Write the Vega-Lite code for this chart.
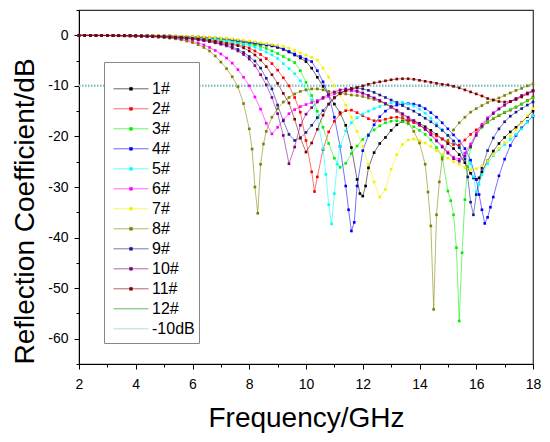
{
  "$schema": "https://vega.github.io/schema/vega-lite/v6.json",
  "width": 454,
  "height": 354,
  "autosize": {"type": "none"},
  "padding": {"left": 79, "top": 10, "right": 17, "bottom": 78},
  "config": {
    "font": "Liberation Sans",
    "view": {"stroke": "#333", "strokeWidth": 1.2},
    "axis": {
      "grid": false,
      "domainColor": "black",
      "tickColor": "black",
      "labelColor": "black",
      "titleColor": "black",
      "labelFont": "Liberation Sans",
      "titleFont": "Liberation Sans",
      "labelFontSize": 14,
      "titleFontSize": 28,
      "titleFontWeight": "normal",
      "labelOverlap": false,
      "labelFlush": false
    }
  },
  "data": {
    "values": [
      {"s":"-10dB","f":2,"r":-10},{"s":"-10dB","f":18,"r":-10},

      {"s":"1#","f":2.0,"r":-0.01},{"s":"1#","f":2.2,"r":-0.01},{"s":"1#","f":2.4,"r":-0.02},{"s":"1#","f":2.6,"r":-0.02},{"s":"1#","f":2.8,"r":-0.02},{"s":"1#","f":3.0,"r":-0.03},{"s":"1#","f":3.2,"r":-0.03},{"s":"1#","f":3.4,"r":-0.04},{"s":"1#","f":3.6,"r":-0.04},{"s":"1#","f":3.8,"r":-0.05},
      {"s":"1#","f":4.0,"r":-0.06},{"s":"1#","f":4.2,"r":-0.07},{"s":"1#","f":4.4,"r":-0.08},{"s":"1#","f":4.6,"r":-0.1},{"s":"1#","f":4.8,"r":-0.12},{"s":"1#","f":5.0,"r":-0.14},{"s":"1#","f":5.2,"r":-0.17},{"s":"1#","f":5.4,"r":-0.2},{"s":"1#","f":5.6,"r":-0.24},{"s":"1#","f":5.8,"r":-0.28},
      {"s":"1#","f":6.0,"r":-0.33},{"s":"1#","f":6.2,"r":-0.39},{"s":"1#","f":6.4,"r":-0.46},{"s":"1#","f":6.6,"r":-0.54},{"s":"1#","f":6.8,"r":-0.63},{"s":"1#","f":7.0,"r":-0.74},{"s":"1#","f":7.2,"r":-0.86},{"s":"1#","f":7.4,"r":-1.0},{"s":"1#","f":7.6,"r":-1.16},{"s":"1#","f":7.8,"r":-1.34},
      {"s":"1#","f":8.0,"r":-1.52},{"s":"1#","f":8.2,"r":-1.68},{"s":"1#","f":8.4,"r":-1.82},{"s":"1#","f":8.6,"r":-1.95},{"s":"1#","f":8.8,"r":-2.1},{"s":"1#","f":9.0,"r":-2.4},{"s":"1#","f":9.2,"r":-2.8},{"s":"1#","f":9.4,"r":-3.3},{"s":"1#","f":9.6,"r":-3.9},{"s":"1#","f":9.8,"r":-4.5},
      {"s":"1#","f":10.0,"r":-5.2},{"s":"1#","f":10.2,"r":-6.5},{"s":"1#","f":10.4,"r":-8.3},{"s":"1#","f":10.6,"r":-10.1},{"s":"1#","f":10.8,"r":-11.9},{"s":"1#","f":11.0,"r":-13.6},{"s":"1#","f":11.2,"r":-15.3},{"s":"1#","f":11.4,"r":-17.8},{"s":"1#","f":11.6,"r":-22.2},{"s":"1#","f":11.8,"r":-28.5},
      {"s":"1#","f":11.9,"r":-31.3},{"s":"1#","f":12.0,"r":-31.8},{"s":"1#","f":12.1,"r":-29.8},{"s":"1#","f":12.2,"r":-26.2},{"s":"1#","f":12.4,"r":-23.2},{"s":"1#","f":12.6,"r":-21.4},{"s":"1#","f":12.8,"r":-20.2},{"s":"1#","f":13.0,"r":-18.8},{"s":"1#","f":13.2,"r":-17.7},{"s":"1#","f":13.4,"r":-17.0},
      {"s":"1#","f":13.6,"r":-16.8},{"s":"1#","f":13.8,"r":-16.9},{"s":"1#","f":14.0,"r":-17.4},{"s":"1#","f":14.2,"r":-18.1},{"s":"1#","f":14.4,"r":-18.8},{"s":"1#","f":14.6,"r":-19.6},{"s":"1#","f":14.8,"r":-20.5},{"s":"1#","f":15.0,"r":-21.4},{"s":"1#","f":15.2,"r":-22.4},{"s":"1#","f":15.4,"r":-23.6},
      {"s":"1#","f":15.6,"r":-25.2},{"s":"1#","f":15.8,"r":-27.3},{"s":"1#","f":15.9,"r":-28.2},{"s":"1#","f":16.0,"r":-28.5},{"s":"1#","f":16.1,"r":-28.2},{"s":"1#","f":16.2,"r":-27.0},{"s":"1#","f":16.4,"r":-24.8},{"s":"1#","f":16.6,"r":-22.9},{"s":"1#","f":16.8,"r":-21.4},{"s":"1#","f":17.0,"r":-20.2},
      {"s":"1#","f":17.2,"r":-19.1},{"s":"1#","f":17.4,"r":-18.2},{"s":"1#","f":17.6,"r":-17.2},{"s":"1#","f":17.8,"r":-16.1},{"s":"1#","f":18.0,"r":-15.0},

      {"s":"2#","f":2.0,"r":-0.02},{"s":"2#","f":2.2,"r":-0.02},{"s":"2#","f":2.4,"r":-0.02},{"s":"2#","f":2.6,"r":-0.03},{"s":"2#","f":2.8,"r":-0.03},{"s":"2#","f":3.0,"r":-0.04},{"s":"2#","f":3.2,"r":-0.04},{"s":"2#","f":3.4,"r":-0.05},{"s":"2#","f":3.6,"r":-0.06},{"s":"2#","f":3.8,"r":-0.07},
      {"s":"2#","f":4.0,"r":-0.09},{"s":"2#","f":4.2,"r":-0.1},{"s":"2#","f":4.4,"r":-0.12},{"s":"2#","f":4.6,"r":-0.15},{"s":"2#","f":4.8,"r":-0.18},{"s":"2#","f":5.0,"r":-0.21},{"s":"2#","f":5.2,"r":-0.25},{"s":"2#","f":5.4,"r":-0.3},{"s":"2#","f":5.6,"r":-0.36},{"s":"2#","f":5.8,"r":-0.43},
      {"s":"2#","f":6.0,"r":-0.51},{"s":"2#","f":6.2,"r":-0.6},{"s":"2#","f":6.4,"r":-0.71},{"s":"2#","f":6.6,"r":-0.84},{"s":"2#","f":6.8,"r":-1.0},{"s":"2#","f":7.0,"r":-1.2},{"s":"2#","f":7.2,"r":-1.42},{"s":"2#","f":7.4,"r":-1.65},{"s":"2#","f":7.6,"r":-1.85},{"s":"2#","f":7.8,"r":-2.05},
      {"s":"2#","f":8.0,"r":-2.5},{"s":"2#","f":8.2,"r":-3.1},{"s":"2#","f":8.4,"r":-3.8},{"s":"2#","f":8.6,"r":-4.6},{"s":"2#","f":8.8,"r":-5.6},{"s":"2#","f":9.0,"r":-6.9},{"s":"2#","f":9.2,"r":-8.4},{"s":"2#","f":9.4,"r":-10.0},{"s":"2#","f":9.6,"r":-12.3},{"s":"2#","f":9.8,"r":-15.2},
      {"s":"2#","f":10.0,"r":-20.8},{"s":"2#","f":10.2,"r":-27.0},{"s":"2#","f":10.3,"r":-30.9},{"s":"2#","f":10.4,"r":-28.0},{"s":"2#","f":10.6,"r":-22.6},{"s":"2#","f":10.8,"r":-19.1},{"s":"2#","f":11.0,"r":-17.0},{"s":"2#","f":11.2,"r":-15.6},{"s":"2#","f":11.4,"r":-14.9},{"s":"2#","f":11.6,"r":-14.8},
      {"s":"2#","f":11.8,"r":-15.3},{"s":"2#","f":12.0,"r":-15.9},{"s":"2#","f":12.2,"r":-16.5},{"s":"2#","f":12.4,"r":-16.9},{"s":"2#","f":12.6,"r":-16.9},{"s":"2#","f":12.8,"r":-16.6},{"s":"2#","f":13.0,"r":-16.3},{"s":"2#","f":13.2,"r":-16.2},{"s":"2#","f":13.4,"r":-16.4},{"s":"2#","f":13.6,"r":-16.8},
      {"s":"2#","f":13.8,"r":-17.3},{"s":"2#","f":14.0,"r":-17.8},{"s":"2#","f":14.2,"r":-18.5},{"s":"2#","f":14.4,"r":-19.3},{"s":"2#","f":14.6,"r":-19.9},{"s":"2#","f":14.8,"r":-20.5},{"s":"2#","f":15.0,"r":-21.1},{"s":"2#","f":15.2,"r":-21.6},{"s":"2#","f":15.4,"r":-21.7},{"s":"2#","f":15.6,"r":-20.7},
      {"s":"2#","f":15.8,"r":-19.6},{"s":"2#","f":16.0,"r":-18.7},{"s":"2#","f":16.2,"r":-17.9},{"s":"2#","f":16.4,"r":-17.2},{"s":"2#","f":16.6,"r":-16.5},{"s":"2#","f":16.8,"r":-15.9},{"s":"2#","f":17.0,"r":-15.3},{"s":"2#","f":17.2,"r":-14.8},{"s":"2#","f":17.4,"r":-14.2},{"s":"2#","f":17.6,"r":-13.6},
      {"s":"2#","f":17.8,"r":-12.9},{"s":"2#","f":18.0,"r":-12.2},

      {"s":"3#","f":2.0,"r":-0.02},{"s":"3#","f":2.2,"r":-0.02},{"s":"3#","f":2.4,"r":-0.02},{"s":"3#","f":2.6,"r":-0.02},{"s":"3#","f":2.8,"r":-0.03},{"s":"3#","f":3.0,"r":-0.03},{"s":"3#","f":3.2,"r":-0.03},{"s":"3#","f":3.4,"r":-0.04},{"s":"3#","f":3.6,"r":-0.05},{"s":"3#","f":3.8,"r":-0.06},
      {"s":"3#","f":4.0,"r":-0.07},{"s":"3#","f":4.2,"r":-0.08},{"s":"3#","f":4.4,"r":-0.1},{"s":"3#","f":4.6,"r":-0.12},{"s":"3#","f":4.8,"r":-0.14},{"s":"3#","f":5.0,"r":-0.17},{"s":"3#","f":5.2,"r":-0.2},{"s":"3#","f":5.4,"r":-0.24},{"s":"3#","f":5.6,"r":-0.28},{"s":"3#","f":5.8,"r":-0.33},
      {"s":"3#","f":6.0,"r":-0.39},{"s":"3#","f":6.2,"r":-0.46},{"s":"3#","f":6.4,"r":-0.54},{"s":"3#","f":6.6,"r":-0.64},{"s":"3#","f":6.8,"r":-0.75},{"s":"3#","f":7.0,"r":-0.88},{"s":"3#","f":7.2,"r":-1.02},{"s":"3#","f":7.4,"r":-1.2},{"s":"3#","f":7.6,"r":-1.4},{"s":"3#","f":7.8,"r":-1.6},
      {"s":"3#","f":8.0,"r":-1.78},{"s":"3#","f":8.2,"r":-1.95},{"s":"3#","f":8.4,"r":-2.2},{"s":"3#","f":8.6,"r":-2.6},{"s":"3#","f":8.8,"r":-3.1},{"s":"3#","f":9.0,"r":-3.6},{"s":"3#","f":9.2,"r":-4.2},{"s":"3#","f":9.4,"r":-4.8},{"s":"3#","f":9.6,"r":-5.4},{"s":"3#","f":9.8,"r":-7.0},
      {"s":"3#","f":10.0,"r":-9.3},{"s":"3#","f":10.2,"r":-11.9},{"s":"3#","f":10.4,"r":-15.0},{"s":"3#","f":10.6,"r":-18.2},{"s":"3#","f":10.8,"r":-21.4},{"s":"3#","f":11.0,"r":-24.3},{"s":"3#","f":11.2,"r":-26.1},{"s":"3#","f":11.4,"r":-25.3},{"s":"3#","f":11.6,"r":-23.4},{"s":"3#","f":11.8,"r":-21.9},
      {"s":"3#","f":12.0,"r":-20.6},{"s":"3#","f":12.2,"r":-19.6},{"s":"3#","f":12.4,"r":-18.7},{"s":"3#","f":12.6,"r":-17.9},{"s":"3#","f":12.8,"r":-17.3},{"s":"3#","f":13.0,"r":-17.0},{"s":"3#","f":13.2,"r":-16.9},{"s":"3#","f":13.4,"r":-17.1},{"s":"3#","f":13.6,"r":-17.5},{"s":"3#","f":13.8,"r":-18.1},
      {"s":"3#","f":14.0,"r":-18.8},{"s":"3#","f":14.2,"r":-19.6},{"s":"3#","f":14.4,"r":-20.7},{"s":"3#","f":14.6,"r":-22.2},{"s":"3#","f":14.8,"r":-24.0},{"s":"3#","f":15.0,"r":-30.8},{"s":"3#","f":15.1,"r":-32.7},{"s":"3#","f":15.2,"r":-35.5},{"s":"3#","f":15.3,"r":-42.0},{"s":"3#","f":15.4,"r":-56.5},
      {"s":"3#","f":15.5,"r":-43.0},{"s":"3#","f":15.6,"r":-32.5},{"s":"3#","f":15.7,"r":-26.0},{"s":"3#","f":15.8,"r":-22.2},{"s":"3#","f":16.0,"r":-19.5},{"s":"3#","f":16.2,"r":-18.2},{"s":"3#","f":16.4,"r":-17.2},{"s":"3#","f":16.6,"r":-16.4},{"s":"3#","f":16.8,"r":-15.8},{"s":"3#","f":17.0,"r":-15.2},
      {"s":"3#","f":17.2,"r":-14.7},{"s":"3#","f":17.4,"r":-14.2},{"s":"3#","f":17.6,"r":-13.6},{"s":"3#","f":17.8,"r":-13.0},{"s":"3#","f":18.0,"r":-12.4},

      {"s":"4#","f":2.0,"r":-0.01},{"s":"4#","f":2.2,"r":-0.01},{"s":"4#","f":2.4,"r":-0.01},{"s":"4#","f":2.6,"r":-0.02},{"s":"4#","f":2.8,"r":-0.02},{"s":"4#","f":3.0,"r":-0.02},{"s":"4#","f":3.2,"r":-0.03},{"s":"4#","f":3.4,"r":-0.03},{"s":"4#","f":3.6,"r":-0.04},{"s":"4#","f":3.8,"r":-0.04},
      {"s":"4#","f":4.0,"r":-0.05},{"s":"4#","f":4.2,"r":-0.06},{"s":"4#","f":4.4,"r":-0.07},{"s":"4#","f":4.6,"r":-0.08},{"s":"4#","f":4.8,"r":-0.1},{"s":"4#","f":5.0,"r":-0.12},{"s":"4#","f":5.2,"r":-0.14},{"s":"4#","f":5.4,"r":-0.17},{"s":"4#","f":5.6,"r":-0.2},{"s":"4#","f":5.8,"r":-0.24},
      {"s":"4#","f":6.0,"r":-0.28},{"s":"4#","f":6.2,"r":-0.33},{"s":"4#","f":6.4,"r":-0.39},{"s":"4#","f":6.6,"r":-0.46},{"s":"4#","f":6.8,"r":-0.54},{"s":"4#","f":7.0,"r":-0.63},{"s":"4#","f":7.2,"r":-0.74},{"s":"4#","f":7.4,"r":-0.86},{"s":"4#","f":7.6,"r":-1.0},{"s":"4#","f":7.8,"r":-1.16},
      {"s":"4#","f":8.0,"r":-1.33},{"s":"4#","f":8.2,"r":-1.5},{"s":"4#","f":8.4,"r":-1.68},{"s":"4#","f":8.6,"r":-1.85},{"s":"4#","f":8.8,"r":-2.0},{"s":"4#","f":9.0,"r":-2.3},{"s":"4#","f":9.2,"r":-2.7},{"s":"4#","f":9.4,"r":-3.2},{"s":"4#","f":9.6,"r":-3.7},{"s":"4#","f":9.8,"r":-4.2},
      {"s":"4#","f":10.0,"r":-4.7},{"s":"4#","f":10.2,"r":-5.2},{"s":"4#","f":10.4,"r":-7.0},{"s":"4#","f":10.6,"r":-9.2},{"s":"4#","f":10.8,"r":-11.8},{"s":"4#","f":11.0,"r":-16.2},{"s":"4#","f":11.2,"r":-22.0},{"s":"4#","f":11.4,"r":-29.8},{"s":"4#","f":11.5,"r":-34.5},{"s":"4#","f":11.6,"r":-38.7},
      {"s":"4#","f":11.7,"r":-37.0},{"s":"4#","f":11.8,"r":-29.8},{"s":"4#","f":12.0,"r":-22.8},{"s":"4#","f":12.2,"r":-19.8},{"s":"4#","f":12.4,"r":-17.7},{"s":"4#","f":12.6,"r":-16.1},{"s":"4#","f":12.8,"r":-15.0},{"s":"4#","f":13.0,"r":-14.2},{"s":"4#","f":13.2,"r":-13.8},{"s":"4#","f":13.4,"r":-13.6},
      {"s":"4#","f":13.6,"r":-13.5},{"s":"4#","f":13.8,"r":-13.6},{"s":"4#","f":14.0,"r":-13.9},{"s":"4#","f":14.2,"r":-14.5},{"s":"4#","f":14.4,"r":-15.3},{"s":"4#","f":14.6,"r":-16.2},{"s":"4#","f":14.8,"r":-17.3},{"s":"4#","f":15.0,"r":-18.5},{"s":"4#","f":15.2,"r":-19.7},{"s":"4#","f":15.4,"r":-20.9},
      {"s":"4#","f":15.6,"r":-22.4},{"s":"4#","f":15.8,"r":-24.7},{"s":"4#","f":16.0,"r":-28.5},{"s":"4#","f":16.1,"r":-31.5},{"s":"4#","f":16.2,"r":-34.5},{"s":"4#","f":16.3,"r":-37.2},{"s":"4#","f":16.4,"r":-36.0},{"s":"4#","f":16.5,"r":-34.0},{"s":"4#","f":16.6,"r":-32.0},{"s":"4#","f":16.8,"r":-27.8},
      {"s":"4#","f":17.0,"r":-24.5},{"s":"4#","f":17.2,"r":-21.8},{"s":"4#","f":17.4,"r":-19.8},{"s":"4#","f":17.6,"r":-18.3},{"s":"4#","f":17.8,"r":-17.1},{"s":"4#","f":18.0,"r":-16.0},

      {"s":"5#","f":2.0,"r":-0.02},{"s":"5#","f":2.2,"r":-0.02},{"s":"5#","f":2.4,"r":-0.02},{"s":"5#","f":2.6,"r":-0.02},{"s":"5#","f":2.8,"r":-0.03},{"s":"5#","f":3.0,"r":-0.03},{"s":"5#","f":3.2,"r":-0.04},{"s":"5#","f":3.4,"r":-0.05},{"s":"5#","f":3.6,"r":-0.06},{"s":"5#","f":3.8,"r":-0.07},
      {"s":"5#","f":4.0,"r":-0.08},{"s":"5#","f":4.2,"r":-0.09},{"s":"5#","f":4.4,"r":-0.11},{"s":"5#","f":4.6,"r":-0.13},{"s":"5#","f":4.8,"r":-0.16},{"s":"5#","f":5.0,"r":-0.19},{"s":"5#","f":5.2,"r":-0.22},{"s":"5#","f":5.4,"r":-0.26},{"s":"5#","f":5.6,"r":-0.31},{"s":"5#","f":5.8,"r":-0.37},
      {"s":"5#","f":6.0,"r":-0.44},{"s":"5#","f":6.2,"r":-0.52},{"s":"5#","f":6.4,"r":-0.62},{"s":"5#","f":6.6,"r":-0.73},{"s":"5#","f":6.8,"r":-0.86},{"s":"5#","f":7.0,"r":-1.0},{"s":"5#","f":7.2,"r":-1.18},{"s":"5#","f":7.4,"r":-1.38},{"s":"5#","f":7.6,"r":-1.6},{"s":"5#","f":7.8,"r":-1.8},
      {"s":"5#","f":8.0,"r":-2.0},{"s":"5#","f":8.2,"r":-2.35},{"s":"5#","f":8.4,"r":-2.8},{"s":"5#","f":8.6,"r":-3.3},{"s":"5#","f":8.8,"r":-3.9},{"s":"5#","f":9.0,"r":-4.6},{"s":"5#","f":9.2,"r":-5.6},{"s":"5#","f":9.4,"r":-6.6},{"s":"5#","f":9.6,"r":-7.6},{"s":"5#","f":9.8,"r":-9.0},
      {"s":"5#","f":10.0,"r":-10.8},{"s":"5#","f":10.2,"r":-12.8},{"s":"5#","f":10.4,"r":-16.2},{"s":"5#","f":10.6,"r":-22.5},{"s":"5#","f":10.7,"r":-27.5},{"s":"5#","f":10.8,"r":-33.5},{"s":"5#","f":10.9,"r":-37.3},{"s":"5#","f":11.0,"r":-31.3},{"s":"5#","f":11.1,"r":-25.5},{"s":"5#","f":11.2,"r":-22.0},
      {"s":"5#","f":11.4,"r":-18.9},{"s":"5#","f":11.6,"r":-17.3},{"s":"5#","f":11.8,"r":-16.3},{"s":"5#","f":12.0,"r":-15.6},{"s":"5#","f":12.2,"r":-15.0},{"s":"5#","f":12.4,"r":-14.5},{"s":"5#","f":12.6,"r":-14.1},{"s":"5#","f":12.8,"r":-13.7},{"s":"5#","f":13.0,"r":-13.4},{"s":"5#","f":13.2,"r":-13.2},
      {"s":"5#","f":13.4,"r":-13.3},{"s":"5#","f":13.6,"r":-13.6},{"s":"5#","f":13.8,"r":-14.0},{"s":"5#","f":14.0,"r":-14.6},{"s":"5#","f":14.2,"r":-15.4},{"s":"5#","f":14.4,"r":-16.4},{"s":"5#","f":14.6,"r":-17.5},{"s":"5#","f":14.8,"r":-18.6},{"s":"5#","f":15.0,"r":-19.8},{"s":"5#","f":15.2,"r":-21.0},
      {"s":"5#","f":15.4,"r":-22.2},{"s":"5#","f":15.6,"r":-23.6},{"s":"5#","f":15.8,"r":-25.4},{"s":"5#","f":15.9,"r":-28.0},{"s":"5#","f":16.0,"r":-31.0},{"s":"5#","f":16.1,"r":-29.5},{"s":"5#","f":16.2,"r":-27.6},{"s":"5#","f":16.4,"r":-25.4},{"s":"5#","f":16.6,"r":-23.8},{"s":"5#","f":16.8,"r":-22.6},
      {"s":"5#","f":17.0,"r":-21.6},{"s":"5#","f":17.2,"r":-20.6},{"s":"5#","f":17.4,"r":-19.6},{"s":"5#","f":17.6,"r":-18.5},{"s":"5#","f":17.8,"r":-17.2},{"s":"5#","f":18.0,"r":-15.9},

      {"s":"6#","f":2.0,"r":-0.02},{"s":"6#","f":2.2,"r":-0.03},{"s":"6#","f":2.4,"r":-0.03},{"s":"6#","f":2.6,"r":-0.04},{"s":"6#","f":2.8,"r":-0.05},{"s":"6#","f":3.0,"r":-0.06},{"s":"6#","f":3.2,"r":-0.07},{"s":"6#","f":3.4,"r":-0.09},{"s":"6#","f":3.6,"r":-0.1},{"s":"6#","f":3.8,"r":-0.12},
      {"s":"6#","f":4.0,"r":-0.15},{"s":"6#","f":4.2,"r":-0.18},{"s":"6#","f":4.4,"r":-0.22},{"s":"6#","f":4.6,"r":-0.27},{"s":"6#","f":4.8,"r":-0.33},{"s":"6#","f":5.0,"r":-0.4},{"s":"6#","f":5.2,"r":-0.5},{"s":"6#","f":5.4,"r":-0.62},{"s":"6#","f":5.6,"r":-0.78},{"s":"6#","f":5.8,"r":-0.98},
      {"s":"6#","f":6.0,"r":-1.2},{"s":"6#","f":6.2,"r":-1.5},{"s":"6#","f":6.4,"r":-1.9},{"s":"6#","f":6.6,"r":-2.4},{"s":"6#","f":6.8,"r":-3.0},{"s":"6#","f":7.0,"r":-3.7},{"s":"6#","f":7.2,"r":-4.5},{"s":"6#","f":7.4,"r":-5.5},{"s":"6#","f":7.6,"r":-6.8},{"s":"6#","f":7.8,"r":-8.3},
      {"s":"6#","f":8.0,"r":-10.0},{"s":"6#","f":8.2,"r":-12.2},{"s":"6#","f":8.4,"r":-14.6},{"s":"6#","f":8.6,"r":-17.4},{"s":"6#","f":8.8,"r":-19.5},{"s":"6#","f":9.0,"r":-18.2},{"s":"6#","f":9.2,"r":-16.7},{"s":"6#","f":9.4,"r":-15.5},{"s":"6#","f":9.6,"r":-14.7},{"s":"6#","f":9.8,"r":-14.1},
      {"s":"6#","f":10.0,"r":-13.7},{"s":"6#","f":10.2,"r":-13.3},{"s":"6#","f":10.4,"r":-12.9},{"s":"6#","f":10.6,"r":-12.5},{"s":"6#","f":10.8,"r":-12.1},{"s":"6#","f":11.0,"r":-11.6},{"s":"6#","f":11.2,"r":-11.2},{"s":"6#","f":11.4,"r":-11.0},{"s":"6#","f":11.6,"r":-11.0},{"s":"6#","f":11.8,"r":-11.2},
      {"s":"6#","f":12.0,"r":-11.5},{"s":"6#","f":12.2,"r":-11.9},{"s":"6#","f":12.4,"r":-12.4},{"s":"6#","f":12.6,"r":-12.9},{"s":"6#","f":12.8,"r":-13.5},{"s":"6#","f":13.0,"r":-14.2},{"s":"6#","f":13.2,"r":-15.0},{"s":"6#","f":13.4,"r":-15.7},{"s":"6#","f":13.6,"r":-16.4},{"s":"6#","f":13.8,"r":-17.0},
      {"s":"6#","f":14.0,"r":-17.7},{"s":"6#","f":14.2,"r":-18.6},{"s":"6#","f":14.4,"r":-19.6},{"s":"6#","f":14.6,"r":-20.7},{"s":"6#","f":14.8,"r":-21.9},{"s":"6#","f":15.0,"r":-23.1},{"s":"6#","f":15.2,"r":-24.1},{"s":"6#","f":15.4,"r":-24.5},{"s":"6#","f":15.6,"r":-23.3},{"s":"6#","f":15.8,"r":-21.5},
      {"s":"6#","f":16.0,"r":-19.3},{"s":"6#","f":16.2,"r":-17.6},{"s":"6#","f":16.4,"r":-16.3},{"s":"6#","f":16.6,"r":-15.3},{"s":"6#","f":16.8,"r":-14.5},{"s":"6#","f":17.0,"r":-13.8},{"s":"6#","f":17.2,"r":-13.1},{"s":"6#","f":17.4,"r":-12.6},{"s":"6#","f":17.6,"r":-12.1},{"s":"6#","f":17.8,"r":-11.6},
      {"s":"6#","f":18.0,"r":-11.1},

      {"s":"7#","f":2.0,"r":-0.01},{"s":"7#","f":2.2,"r":-0.01},{"s":"7#","f":2.4,"r":-0.01},{"s":"7#","f":2.6,"r":-0.01},{"s":"7#","f":2.8,"r":-0.02},{"s":"7#","f":3.0,"r":-0.02},{"s":"7#","f":3.2,"r":-0.02},{"s":"7#","f":3.4,"r":-0.03},{"s":"7#","f":3.6,"r":-0.03},{"s":"7#","f":3.8,"r":-0.04},
      {"s":"7#","f":4.0,"r":-0.04},{"s":"7#","f":4.2,"r":-0.05},{"s":"7#","f":4.4,"r":-0.06},{"s":"7#","f":4.6,"r":-0.07},{"s":"7#","f":4.8,"r":-0.08},{"s":"7#","f":5.0,"r":-0.1},{"s":"7#","f":5.2,"r":-0.12},{"s":"7#","f":5.4,"r":-0.14},{"s":"7#","f":5.6,"r":-0.17},{"s":"7#","f":5.8,"r":-0.2},
      {"s":"7#","f":6.0,"r":-0.23},{"s":"7#","f":6.2,"r":-0.27},{"s":"7#","f":6.4,"r":-0.32},{"s":"7#","f":6.6,"r":-0.38},{"s":"7#","f":6.8,"r":-0.45},{"s":"7#","f":7.0,"r":-0.53},{"s":"7#","f":7.2,"r":-0.62},{"s":"7#","f":7.4,"r":-0.72},{"s":"7#","f":7.6,"r":-0.84},{"s":"7#","f":7.8,"r":-0.98},
      {"s":"7#","f":8.0,"r":-1.13},{"s":"7#","f":8.2,"r":-1.3},{"s":"7#","f":8.4,"r":-1.48},{"s":"7#","f":8.6,"r":-1.65},{"s":"7#","f":8.8,"r":-1.82},{"s":"7#","f":9.0,"r":-1.97},{"s":"7#","f":9.2,"r":-2.2},{"s":"7#","f":9.4,"r":-2.55},{"s":"7#","f":9.6,"r":-3.0},{"s":"7#","f":9.8,"r":-3.5},
      {"s":"7#","f":10.0,"r":-3.9},{"s":"7#","f":10.2,"r":-4.4},{"s":"7#","f":10.4,"r":-4.9},{"s":"7#","f":10.6,"r":-6.5},{"s":"7#","f":10.8,"r":-8.3},{"s":"7#","f":11.0,"r":-10.0},{"s":"7#","f":11.2,"r":-11.8},{"s":"7#","f":11.4,"r":-13.8},{"s":"7#","f":11.6,"r":-16.2},{"s":"7#","f":11.8,"r":-19.0},
      {"s":"7#","f":12.0,"r":-22.0},{"s":"7#","f":12.2,"r":-25.5},{"s":"7#","f":12.4,"r":-29.0},{"s":"7#","f":12.6,"r":-32.0},{"s":"7#","f":12.8,"r":-30.5},{"s":"7#","f":13.0,"r":-26.5},{"s":"7#","f":13.2,"r":-23.6},{"s":"7#","f":13.4,"r":-21.6},{"s":"7#","f":13.6,"r":-20.7},{"s":"7#","f":13.8,"r":-20.5},
      {"s":"7#","f":14.0,"r":-20.8},{"s":"7#","f":14.2,"r":-21.3},{"s":"7#","f":14.4,"r":-22.0},{"s":"7#","f":14.6,"r":-22.8},{"s":"7#","f":14.8,"r":-23.6},{"s":"7#","f":15.0,"r":-24.3},{"s":"7#","f":15.2,"r":-25.0},{"s":"7#","f":15.4,"r":-25.5},{"s":"7#","f":15.6,"r":-26.2},{"s":"7#","f":15.8,"r":-26.6},
      {"s":"7#","f":16.0,"r":-26.4},{"s":"7#","f":16.2,"r":-25.8},{"s":"7#","f":16.4,"r":-24.8},{"s":"7#","f":16.6,"r":-23.6},{"s":"7#","f":16.8,"r":-22.4},{"s":"7#","f":17.0,"r":-21.2},{"s":"7#","f":17.2,"r":-20.0},{"s":"7#","f":17.4,"r":-18.7},{"s":"7#","f":17.6,"r":-17.3},{"s":"7#","f":17.8,"r":-15.9},
      {"s":"7#","f":18.0,"r":-14.5},

      {"s":"8#","f":2.0,"r":-0.03},{"s":"8#","f":2.2,"r":-0.03},{"s":"8#","f":2.4,"r":-0.04},{"s":"8#","f":2.6,"r":-0.05},{"s":"8#","f":2.8,"r":-0.06},{"s":"8#","f":3.0,"r":-0.07},{"s":"8#","f":3.2,"r":-0.08},{"s":"8#","f":3.4,"r":-0.1},{"s":"8#","f":3.6,"r":-0.12},{"s":"8#","f":3.8,"r":-0.14},
      {"s":"8#","f":4.0,"r":-0.17},{"s":"8#","f":4.2,"r":-0.2},{"s":"8#","f":4.4,"r":-0.25},{"s":"8#","f":4.6,"r":-0.3},{"s":"8#","f":4.8,"r":-0.37},{"s":"8#","f":5.0,"r":-0.45},{"s":"8#","f":5.2,"r":-0.55},{"s":"8#","f":5.4,"r":-0.7},{"s":"8#","f":5.6,"r":-0.9},{"s":"8#","f":5.8,"r":-1.15},
      {"s":"8#","f":6.0,"r":-1.45},{"s":"8#","f":6.2,"r":-1.85},{"s":"8#","f":6.4,"r":-2.4},{"s":"8#","f":6.6,"r":-3.1},{"s":"8#","f":6.8,"r":-4.1},{"s":"8#","f":7.0,"r":-5.3},{"s":"8#","f":7.2,"r":-6.6},{"s":"8#","f":7.4,"r":-8.2},{"s":"8#","f":7.6,"r":-10.2},{"s":"8#","f":7.8,"r":-13.5},
      {"s":"8#","f":8.0,"r":-18.5},{"s":"8#","f":8.1,"r":-22.5},{"s":"8#","f":8.2,"r":-30.0},{"s":"8#","f":8.3,"r":-35.2},{"s":"8#","f":8.4,"r":-25.5},{"s":"8#","f":8.5,"r":-21.5},{"s":"8#","f":8.6,"r":-19.0},{"s":"8#","f":8.8,"r":-16.2},{"s":"8#","f":9.0,"r":-14.5},{"s":"8#","f":9.2,"r":-13.2},
      {"s":"8#","f":9.4,"r":-12.3},{"s":"8#","f":9.6,"r":-11.6},{"s":"8#","f":9.8,"r":-11.1},{"s":"8#","f":10.0,"r":-10.8},{"s":"8#","f":10.2,"r":-10.6},{"s":"8#","f":10.4,"r":-10.6},{"s":"8#","f":10.6,"r":-10.8},{"s":"8#","f":10.8,"r":-11.1},{"s":"8#","f":11.0,"r":-11.3},{"s":"8#","f":11.2,"r":-11.5},
      {"s":"8#","f":11.4,"r":-11.6},{"s":"8#","f":11.6,"r":-11.8},{"s":"8#","f":11.8,"r":-11.9},{"s":"8#","f":12.0,"r":-12.1},{"s":"8#","f":12.2,"r":-12.4},{"s":"8#","f":12.4,"r":-12.7},{"s":"8#","f":12.6,"r":-13.1},{"s":"8#","f":12.8,"r":-13.6},{"s":"8#","f":13.0,"r":-14.2},{"s":"8#","f":13.2,"r":-15.0},
      {"s":"8#","f":13.4,"r":-16.1},{"s":"8#","f":13.6,"r":-17.3},{"s":"8#","f":13.8,"r":-19.0},{"s":"8#","f":14.0,"r":-21.3},{"s":"8#","f":14.2,"r":-25.5},{"s":"8#","f":14.3,"r":-31.0},{"s":"8#","f":14.4,"r":-37.7},{"s":"8#","f":14.5,"r":-54.2},{"s":"8#","f":14.6,"r":-35.5},{"s":"8#","f":14.7,"r":-29.0},
      {"s":"8#","f":14.8,"r":-24.5},{"s":"8#","f":15.0,"r":-20.8},{"s":"8#","f":15.2,"r":-18.7},{"s":"8#","f":15.4,"r":-17.3},{"s":"8#","f":15.6,"r":-16.2},{"s":"8#","f":15.8,"r":-15.2},{"s":"8#","f":16.0,"r":-14.5},{"s":"8#","f":16.2,"r":-13.9},{"s":"8#","f":16.4,"r":-13.3},{"s":"8#","f":16.6,"r":-12.8},
      {"s":"8#","f":16.8,"r":-12.4},{"s":"8#","f":17.0,"r":-11.9},{"s":"8#","f":17.2,"r":-11.4},{"s":"8#","f":17.4,"r":-10.9},{"s":"8#","f":17.6,"r":-10.5},{"s":"8#","f":17.8,"r":-10.0},{"s":"8#","f":18.0,"r":-9.6},

      {"s":"9#","f":2.0,"r":-0.02},{"s":"9#","f":2.2,"r":-0.02},{"s":"9#","f":2.4,"r":-0.03},{"s":"9#","f":2.6,"r":-0.03},{"s":"9#","f":2.8,"r":-0.04},{"s":"9#","f":3.0,"r":-0.05},{"s":"9#","f":3.2,"r":-0.06},{"s":"9#","f":3.4,"r":-0.07},{"s":"9#","f":3.6,"r":-0.08},{"s":"9#","f":3.8,"r":-0.1},
      {"s":"9#","f":4.0,"r":-0.12},{"s":"9#","f":4.2,"r":-0.14},{"s":"9#","f":4.4,"r":-0.17},{"s":"9#","f":4.6,"r":-0.2},{"s":"9#","f":4.8,"r":-0.24},{"s":"9#","f":5.0,"r":-0.29},{"s":"9#","f":5.2,"r":-0.35},{"s":"9#","f":5.4,"r":-0.42},{"s":"9#","f":5.6,"r":-0.5},{"s":"9#","f":5.8,"r":-0.6},
      {"s":"9#","f":6.0,"r":-0.71},{"s":"9#","f":6.2,"r":-0.84},{"s":"9#","f":6.4,"r":-1.0},{"s":"9#","f":6.6,"r":-1.2},{"s":"9#","f":6.8,"r":-1.42},{"s":"9#","f":7.0,"r":-1.65},{"s":"9#","f":7.2,"r":-1.9},{"s":"9#","f":7.4,"r":-2.3},{"s":"9#","f":7.6,"r":-2.8},{"s":"9#","f":7.8,"r":-3.4},
      {"s":"9#","f":8.0,"r":-4.2},{"s":"9#","f":8.2,"r":-5.1},{"s":"9#","f":8.4,"r":-6.5},{"s":"9#","f":8.6,"r":-8.5},{"s":"9#","f":8.8,"r":-10.6},{"s":"9#","f":9.0,"r":-13.8},{"s":"9#","f":9.2,"r":-16.9},{"s":"9#","f":9.4,"r":-19.6},{"s":"9#","f":9.6,"r":-20.8},{"s":"9#","f":9.8,"r":-20.3},
      {"s":"9#","f":10.0,"r":-19.2},{"s":"9#","f":10.2,"r":-17.8},{"s":"9#","f":10.4,"r":-16.3},{"s":"9#","f":10.6,"r":-14.9},{"s":"9#","f":10.8,"r":-13.6},{"s":"9#","f":11.0,"r":-12.4},{"s":"9#","f":11.2,"r":-11.5},{"s":"9#","f":11.4,"r":-10.9},{"s":"9#","f":11.6,"r":-10.5},{"s":"9#","f":11.8,"r":-10.4},
      {"s":"9#","f":12.0,"r":-10.6},{"s":"9#","f":12.2,"r":-10.9},{"s":"9#","f":12.4,"r":-11.3},{"s":"9#","f":12.6,"r":-11.8},{"s":"9#","f":12.8,"r":-12.3},{"s":"9#","f":13.0,"r":-12.8},{"s":"9#","f":13.2,"r":-13.3},{"s":"9#","f":13.4,"r":-13.9},{"s":"9#","f":13.6,"r":-14.5},{"s":"9#","f":13.8,"r":-15.0},
      {"s":"9#","f":14.0,"r":-15.7},{"s":"9#","f":14.2,"r":-16.4},{"s":"9#","f":14.4,"r":-17.1},{"s":"9#","f":14.6,"r":-17.9},{"s":"9#","f":14.8,"r":-18.8},{"s":"9#","f":15.0,"r":-19.8},{"s":"9#","f":15.2,"r":-20.9},{"s":"9#","f":15.4,"r":-22.2},{"s":"9#","f":15.6,"r":-24.5},{"s":"9#","f":15.7,"r":-28.0},
      {"s":"9#","f":15.8,"r":-33.0},{"s":"9#","f":15.9,"r":-35.5},{"s":"9#","f":16.0,"r":-31.5},{"s":"9#","f":16.2,"r":-26.3},{"s":"9#","f":16.4,"r":-22.8},{"s":"9#","f":16.6,"r":-20.3},{"s":"9#","f":16.8,"r":-18.5},{"s":"9#","f":17.0,"r":-17.1},{"s":"9#","f":17.2,"r":-16.0},{"s":"9#","f":17.4,"r":-15.2},
      {"s":"9#","f":17.6,"r":-14.5},{"s":"9#","f":17.8,"r":-13.8},{"s":"9#","f":18.0,"r":-13.2},

      {"s":"10#","f":2.0,"r":-0.02},{"s":"10#","f":2.2,"r":-0.03},{"s":"10#","f":2.4,"r":-0.03},{"s":"10#","f":2.6,"r":-0.04},{"s":"10#","f":2.8,"r":-0.05},{"s":"10#","f":3.0,"r":-0.06},{"s":"10#","f":3.2,"r":-0.07},{"s":"10#","f":3.4,"r":-0.08},{"s":"10#","f":3.6,"r":-0.09},{"s":"10#","f":3.8,"r":-0.11},
      {"s":"10#","f":4.0,"r":-0.13},{"s":"10#","f":4.2,"r":-0.16},{"s":"10#","f":4.4,"r":-0.19},{"s":"10#","f":4.6,"r":-0.23},{"s":"10#","f":4.8,"r":-0.28},{"s":"10#","f":5.0,"r":-0.34},{"s":"10#","f":5.2,"r":-0.41},{"s":"10#","f":5.4,"r":-0.5},{"s":"10#","f":5.6,"r":-0.58},{"s":"10#","f":5.8,"r":-0.66},
      {"s":"10#","f":6.0,"r":-0.75},{"s":"10#","f":6.2,"r":-0.88},{"s":"10#","f":6.4,"r":-1.05},{"s":"10#","f":6.6,"r":-1.25},{"s":"10#","f":6.8,"r":-1.5},{"s":"10#","f":7.0,"r":-1.78},{"s":"10#","f":7.2,"r":-2.1},{"s":"10#","f":7.4,"r":-2.55},{"s":"10#","f":7.6,"r":-3.1},{"s":"10#","f":7.8,"r":-3.8},
      {"s":"10#","f":8.0,"r":-4.7},{"s":"10#","f":8.2,"r":-6.0},{"s":"10#","f":8.4,"r":-7.8},{"s":"10#","f":8.6,"r":-9.8},{"s":"10#","f":8.8,"r":-12.3},{"s":"10#","f":9.0,"r":-15.5},{"s":"10#","f":9.2,"r":-19.8},{"s":"10#","f":9.4,"r":-25.4},{"s":"10#","f":9.6,"r":-22.1},{"s":"10#","f":9.8,"r":-17.8},
      {"s":"10#","f":10.0,"r":-15.6},{"s":"10#","f":10.2,"r":-14.3},{"s":"10#","f":10.4,"r":-13.2},{"s":"10#","f":10.6,"r":-12.3},{"s":"10#","f":10.8,"r":-11.7},{"s":"10#","f":11.0,"r":-11.2},{"s":"10#","f":11.2,"r":-10.8},{"s":"10#","f":11.4,"r":-10.6},{"s":"10#","f":11.6,"r":-10.7},{"s":"10#","f":11.8,"r":-11.0},
      {"s":"10#","f":12.0,"r":-11.4},{"s":"10#","f":12.2,"r":-11.9},{"s":"10#","f":12.4,"r":-12.4},{"s":"10#","f":12.6,"r":-12.9},{"s":"10#","f":12.8,"r":-13.5},{"s":"10#","f":13.0,"r":-14.1},{"s":"10#","f":13.2,"r":-14.8},{"s":"10#","f":13.4,"r":-15.5},{"s":"10#","f":13.6,"r":-16.2},{"s":"10#","f":13.8,"r":-16.9},
      {"s":"10#","f":14.0,"r":-17.7},{"s":"10#","f":14.2,"r":-18.6},{"s":"10#","f":14.4,"r":-19.7},{"s":"10#","f":14.6,"r":-20.9},{"s":"10#","f":14.8,"r":-22.1},{"s":"10#","f":15.0,"r":-23.3},{"s":"10#","f":15.2,"r":-24.4},{"s":"10#","f":15.4,"r":-24.9},{"s":"10#","f":15.6,"r":-23.9},{"s":"10#","f":15.8,"r":-22.0},
      {"s":"10#","f":16.0,"r":-19.8},{"s":"10#","f":16.2,"r":-18.0},{"s":"10#","f":16.4,"r":-16.6},{"s":"10#","f":16.6,"r":-15.5},{"s":"10#","f":16.8,"r":-14.6},{"s":"10#","f":17.0,"r":-13.8},{"s":"10#","f":17.2,"r":-13.1},{"s":"10#","f":17.4,"r":-12.5},{"s":"10#","f":17.6,"r":-11.9},{"s":"10#","f":17.8,"r":-11.4},
      {"s":"10#","f":18.0,"r":-10.9},

      {"s":"11#","f":2.0,"r":-0.02},{"s":"11#","f":2.2,"r":-0.02},{"s":"11#","f":2.4,"r":-0.02},{"s":"11#","f":2.6,"r":-0.03},{"s":"11#","f":2.8,"r":-0.03},{"s":"11#","f":3.0,"r":-0.04},{"s":"11#","f":3.2,"r":-0.05},{"s":"11#","f":3.4,"r":-0.06},{"s":"11#","f":3.6,"r":-0.07},{"s":"11#","f":3.8,"r":-0.08},
      {"s":"11#","f":4.0,"r":-0.1},{"s":"11#","f":4.2,"r":-0.12},{"s":"11#","f":4.4,"r":-0.14},{"s":"11#","f":4.6,"r":-0.17},{"s":"11#","f":4.8,"r":-0.2},{"s":"11#","f":5.0,"r":-0.24},{"s":"11#","f":5.2,"r":-0.29},{"s":"11#","f":5.4,"r":-0.35},{"s":"11#","f":5.6,"r":-0.42},{"s":"11#","f":5.8,"r":-0.5},
      {"s":"11#","f":6.0,"r":-0.6},{"s":"11#","f":6.2,"r":-0.71},{"s":"11#","f":6.4,"r":-0.84},{"s":"11#","f":6.6,"r":-1.0},{"s":"11#","f":6.8,"r":-1.2},{"s":"11#","f":7.0,"r":-1.42},{"s":"11#","f":7.2,"r":-1.65},{"s":"11#","f":7.4,"r":-1.85},{"s":"11#","f":7.6,"r":-2.05},{"s":"11#","f":7.8,"r":-2.5},
      {"s":"11#","f":8.0,"r":-3.1},{"s":"11#","f":8.2,"r":-3.9},{"s":"11#","f":8.4,"r":-4.9},{"s":"11#","f":8.6,"r":-6.2},{"s":"11#","f":8.8,"r":-7.8},{"s":"11#","f":9.0,"r":-9.5},{"s":"11#","f":9.2,"r":-11.5},{"s":"11#","f":9.4,"r":-13.4},{"s":"11#","f":9.6,"r":-16.6},{"s":"11#","f":9.8,"r":-20.3},
      {"s":"11#","f":10.0,"r":-23.1},{"s":"11#","f":10.2,"r":-21.3},{"s":"11#","f":10.4,"r":-18.6},{"s":"11#","f":10.6,"r":-15.8},{"s":"11#","f":10.8,"r":-13.6},{"s":"11#","f":11.0,"r":-12.3},{"s":"11#","f":11.2,"r":-11.5},{"s":"11#","f":11.4,"r":-11.0},{"s":"11#","f":11.6,"r":-10.6},{"s":"11#","f":11.8,"r":-10.3},
      {"s":"11#","f":12.0,"r":-10.0},{"s":"11#","f":12.2,"r":-9.7},{"s":"11#","f":12.4,"r":-9.4},{"s":"11#","f":12.6,"r":-9.2},{"s":"11#","f":12.8,"r":-9.0},{"s":"11#","f":13.0,"r":-8.8},{"s":"11#","f":13.2,"r":-8.65},{"s":"11#","f":13.4,"r":-8.6},{"s":"11#","f":13.6,"r":-8.6},{"s":"11#","f":13.8,"r":-8.7},
      {"s":"11#","f":14.0,"r":-8.9},{"s":"11#","f":14.2,"r":-9.1},{"s":"11#","f":14.4,"r":-9.3},{"s":"11#","f":14.6,"r":-9.5},{"s":"11#","f":14.8,"r":-9.7},{"s":"11#","f":15.0,"r":-9.8},{"s":"11#","f":15.2,"r":-10.1},{"s":"11#","f":15.4,"r":-10.4},{"s":"11#","f":15.6,"r":-10.8},{"s":"11#","f":15.8,"r":-11.2},
      {"s":"11#","f":16.0,"r":-11.6},{"s":"11#","f":16.2,"r":-12.0},{"s":"11#","f":16.4,"r":-12.5},{"s":"11#","f":16.6,"r":-12.8},{"s":"11#","f":16.8,"r":-13.1},{"s":"11#","f":17.0,"r":-13.2},{"s":"11#","f":17.2,"r":-13.1},{"s":"11#","f":17.4,"r":-12.7},{"s":"11#","f":17.6,"r":-12.2},{"s":"11#","f":17.8,"r":-11.6},
      {"s":"11#","f":18.0,"r":-11.0}
    ]
  },
  "encoding": {
    "x": {
      "field": "f",
      "type": "quantitative",
      "scale": {"domain": [2, 18], "nice": false, "zero": false},
      "axis": {
        "title": "Frequency/GHz",
        "values": [2, 3, 4, 5, 6, 7, 8, 9, 10, 11, 12, 13, 14, 15, 16, 17, 18],
        "labelExpr": "datum.value % 2 === 0 ? '' + datum.value : ''",
        "tickSize": {"condition": {"test": "datum.value % 2 === 0", "value": 5}, "value": 3},
        "labelPadding": 8,
        "titleY": 62,
        "titleBaseline": "alphabetic"
      }
    },
    "y": {
      "field": "r",
      "type": "quantitative",
      "scale": {"domain": [-65, 5], "nice": false, "zero": false},
      "axis": {
        "title": "Reflection Coefficient/dB",
        "values": [-65, -60, -55, -50, -45, -40, -35, -30, -25, -20, -15, -10, -5, 0, 5],
        "labelExpr": "datum.value % 10 === 0 ? '' + datum.value : ''",
        "tickSize": {"condition": {"test": "datum.value % 10 === 0", "value": 5}, "value": 3},
        "labelPadding": 6,
        "titleX": -46,
        "titleY": 201,
        "titleAlign": "center",
        "titleBaseline": "alphabetic",
        "titleAngle": -90
      }
    },
    "color": {
      "field": "s",
      "type": "nominal",
      "scale": {
        "domain": ["1#", "2#", "3#", "4#", "5#", "6#", "7#", "8#", "9#", "10#", "11#", "12#", "-10dB"],
        "range": ["#000000", "#ff0000", "#00ee00", "#0000ff", "#00ffff", "#ff00ff", "#f2f200", "#808000", "#1a1a90", "#800080", "#800000", "#008000", "#86c4c4"]
      },
      "legend": {
        "orient": "none",
        "legendX": 25,
        "legendY": 52,
        "title": " ",
        "titleFontSize": 10,
        "titlePadding": 3,
        "padding": 4,
        "fillColor": "white",
        "strokeColor": "#888888",
        "labelFont": "Liberation Sans",
        "labelFontSize": 16,
        "labelColor": "black",
        "symbolType": "M-1,0L1,0M-0.08,-0.08L0.08,-0.08L0.08,0.08L-0.08,0.08Z",
        "symbolSize": 1225,
        "symbolStrokeWidth": 1,
        "symbolOffset": 5,
        "labelOffset": 3,
        "clipHeight": 19.6,
        "rowPadding": 0,
        "encode": {
          "symbols": {
            "update": {
              "shape": [{"test": "datum.value === '-10dB' || datum.value === '12#'", "value": "M-1,0L1,0"}, {"value": "M-1,0L1,0M-0.08,-0.08L0.08,-0.08L0.08,0.08L-0.08,0.08Z"}],
              "fill": {"scale": "color", "field": "value"},
              "fillOpacity": {"value": 1},
              "strokeOpacity": {"value": 0.6}
            }
          }
        }
      }
    }
  },
  "layer": [
    {
      "transform": [{"filter": "datum.s === '-10dB'"}],
      "mark": {"type": "line", "strokeWidth": 2.5, "strokeDash": [1.5, 1.5]}
    },
    {
      "transform": [{"filter": "datum.s !== '-10dB'"}],
      "mark": {"type": "line", "strokeWidth": 1, "opacity": 0.55}
    },
    {
      "transform": [{"filter": "datum.s !== '-10dB'"}],
      "mark": {"type": "point", "shape": "square", "filled": true, "size": 7, "opacity": 1}
    }
  ]
}
